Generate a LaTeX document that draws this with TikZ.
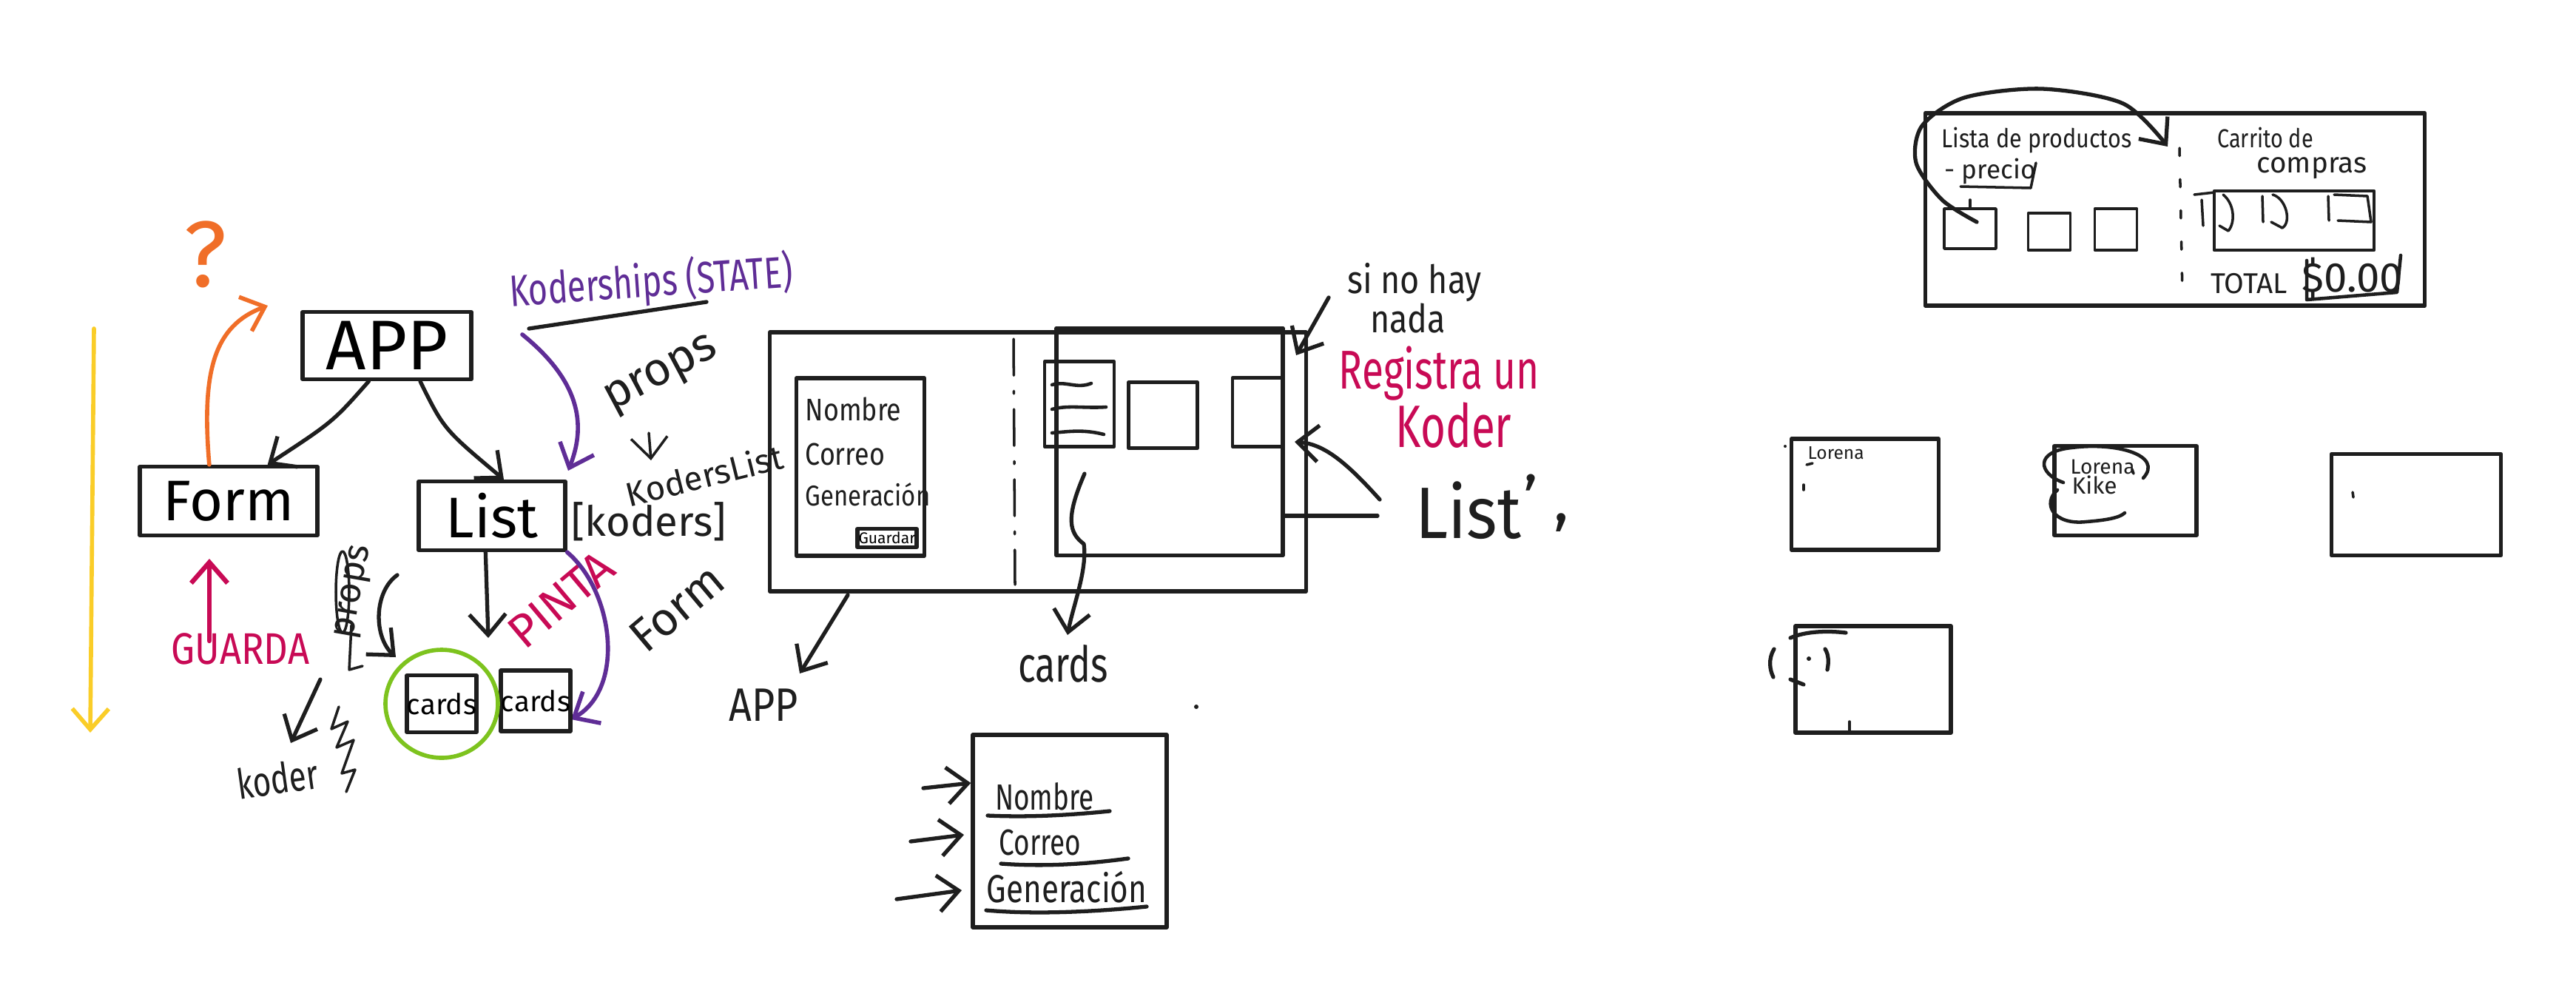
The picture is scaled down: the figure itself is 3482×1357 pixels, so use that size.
\documentclass[tikz,border=0pt]{standalone}
\usepackage{fontspec}
\setmainfont{Fira Sans}
\usetikzlibrary{arrows.meta}
\newcommand\hfs[1]{\fontsize{#1}{#1}\selectfont}
\definecolor{hyellow}{RGB}{250,205,40}
\definecolor{horange}{RGB}{240,110,40}
\definecolor{hpurple}{RGB}{95,45,150}
\definecolor{hcrimson}{RGB}{200,10,85}
\definecolor{hgreen}{RGB}{125,195,30}
\definecolor{hink}{RGB}{30,30,30}
\begin{document}
\begin{tikzpicture}[x=0.01cm,y=-0.01cm,
  ink/.style={draw=hink,line width=1.5pt,line cap=round,line join=round},
  thinink/.style={draw=hink,line width=1pt,line cap=round,line join=round},
  box/.style={ink,rectangle,inner sep=0pt},
  sbox/.style={thinink,rectangle,inner sep=0pt},
  barb/.style={-{Straight Barb[length=8pt,width=14pt]}},
  lbl/.style={inner sep=0pt,text=hink},
]
\useasboundingbox[fill=white] (0,0) rectangle (3482,1357);

% ---------- left diagram ----------
\draw[draw=hyellow,line width=1.6pt,line cap=round,barb] (127,444) -- (122,990);
\node[lbl,text=horange] (q) at (278,344) {\hfs{36}?};

\node[box,minimum width=2.28cm,minimum height=0.91cm] (app) at (523,467) {\hfs{27}APP};
\node[box,minimum width=2.40cm,minimum height=0.93cm] (form) at (309,677) {\hfs{22}Form};
\node[box,minimum width=1.98cm,minimum height=0.93cm] (list) at (665,697) {\hfs{22}List};
\node[lbl,anchor=west] (koders) at (772,705) {\hfs{16}[koders]};

\coordinate (orangeEnd) at (362,413);
\draw[draw=horange,line width=1.6pt,line cap=round,barb] (form.118) .. controls (272,500) and (290,440) .. (orangeEnd);
\draw[ink,barb] (app.243) .. controls (450,570) .. (form.43);
\draw[ink,barb] (app.313) .. controls (600,580) .. (list.72);

\node[lbl,text=hpurple,rotate=4,xscale=0.75] (state) at (880,382) {\hfs{17}Koderships (STATE)};
\coordinate (stateA) at (715,444);
\coordinate (stateB) at (955,408);
\draw[ink] (stateA) -- (stateB);
\coordinate (purpleStart) at (706,452);
\coordinate (purpleEnd) at (768,636);
\draw[draw=hpurple,line width=1.6pt,line cap=round,barb] (purpleStart) .. controls (790,520) and (790,580) .. (purpleEnd);

\node[lbl,rotate=28] (props1) at (895,508) {\hfs{18}props};
\coordinate (pa) at (877,585);
\coordinate (pb) at (880,622);
\draw[thinink,barb] (pa) -- (pb);
\node[lbl,rotate=14] (kl) at (952,642) {\hfs{13}KodersList};

\node[lbl,rotate=40] (formlbl) at (915,822) {\hfs{18}Form};
\node[lbl,text=hcrimson,rotate=40] (pinta) at (758,810) {\hfs{18}PINTA};

\node[lbl,rotate=80] (props2) at (480,800) {\hfs{14}props};
\draw[thinink] (463,800) ellipse (9 and 55);
\draw[thinink] (475,845) -- (472,905) -- (490,900);

\draw[ink,barb] (537,777) .. controls (505,800) and (505,860) .. (535,888);
\draw[ink,barb] (list.260) -- (660,862);
\draw[draw=hpurple,line width=1.6pt,line cap=round,barb] (list.south east) .. controls (830,800) and (845,930) .. (772,972);

\draw[draw=hcrimson,line width=1.8pt,line cap=round,barb] (283,866) -- (283,755);
\node[lbl,text=hcrimson,xscale=0.85] (guarda) at (325,877) {\hfs{17}GUARDA};
\coordinate (ka) at (433,918);
\coordinate (kb) at (393,1004);
\draw[ink,barb] (ka) -- (kb);
\node[lbl,rotate=8,xscale=0.75] (koderlbl) at (375,1052) {\hfs{16}koder};
\draw[thinink] (458,955) -- (448,985) -- (470,975) -- (455,1010) -- (478,1000) -- (462,1045) -- (480,1040) -- (468,1070);

\node[sbox,line width=1.5pt,minimum width=0.89cm,minimum height=0.77cm] (card1) at (597,951) {\hfs{11}cards};
\node[sbox,line width=1.5pt,minimum width=0.88cm,minimum height=0.82cm] (card2) at (724,947) {\hfs{11}cards};
\draw[draw=hgreen,line width=1.6pt] (card1.center) ellipse (76 and 73);

% ---------- middle wireframe ----------
\node[box,minimum width=7.24cm,minimum height=3.50cm] (wf) at (1403,624) {};
\draw[thinink,dash pattern=on 14pt off 6pt on 1pt off 6pt] (1370,458) -- (1372,790);
\node[box,minimum width=1.73cm,minimum height=2.40cm] (fcard) at (1163,631) {};
\node[lbl,anchor=west,xscale=0.85] (nom1) at (1088,553) {\hfs{12}Nombre};
\node[lbl,anchor=west,xscale=0.85] (cor1) at (1088,614) {\hfs{12}Correo};
\node[lbl,anchor=west,xscale=0.85] (gen1) at (1088,668) {\hfs{11}Generación};
\node[box,minimum width=0.80cm,minimum height=0.25cm] (btn) at (1199,727) {\hfs{6}Guardar};
\node[box,minimum width=3.06cm,minimum height=3.07cm] (lbox) at (1581,597) {};
\node[box,line width=1.3pt,minimum width=0.94cm,minimum height=1.15cm] (cardA) at (1459,546) {};
\draw[thinink,line width=1.3pt] (1422,520) .. controls (1440,514) and (1455,526) .. (1475,518);
\draw[thinink,line width=1.3pt] (1422,553) .. controls (1445,547) and (1465,552) .. (1495,550);
\draw[thinink,line width=1.3pt] (1422,585) .. controls (1445,583) and (1465,580) .. (1492,587);
\node[box,line width=1.3pt,minimum width=0.93cm,minimum height=0.89cm] (cardB) at (1572,561) {};
\node[box,line width=1.3pt,minimum width=0.68cm,minimum height=0.93cm] (cardC) at (1700,557) {};

\node[lbl,xscale=0.85] (sino) at (1912,382) {\hfs{15}si no hay};
\node[lbl,xscale=0.85] (nada) at (1903,430) {\hfs{15}nada};
\coordinate (sinoA) at (1796,402);
\coordinate (sinoB) at (1752,480);
\draw[ink,barb] (sinoA) -- (sinoB);
\node[lbl,text=hcrimson,xscale=0.72] (reg) at (1945,505) {\hfs{21}Registra un};
\node[lbl,text=hcrimson,xscale=0.72] (kod) at (1965,575) {\hfs{23}Koder};

\node[lbl,xscale=0.9] (listlbl) at (1985,690) {\hfs{28}List};
\node[lbl] (tick) at (2090,680) {\hfs{24}' ,};
\coordinate (la) at (1865,675);
\coordinate (lb) at (1862,697);
\draw[ink,barb] (la) .. controls (1820,625) and (1790,600) .. (1750,597);
\draw[ink] (lb) -- (lbox.east |- lb);

\coordinate (appA) at (1146,804);
\coordinate (appB) at (1081,910);
\draw[ink,barb] (appA) -- (appB);
\node[lbl,xscale=0.85] (applbl) at (1032,953) {\hfs{18}APP};
\coordinate (cA) at (1466,640);
\coordinate (cB) at (1443,858);
\draw[ink,barb] (cA) .. controls (1440,700) and (1445,720) .. (1465,735) .. controls (1470,770) and (1450,820) .. (cB);
\node[lbl,xscale=0.75] (cardslbl) at (1437,897) {\hfs{19}cards};
\fill[hink] (1617,955) circle (3);

\node[box,minimum width=2.62cm,minimum height=2.60cm] (bform) at (1446,1123) {};
\node[lbl,xscale=0.75] (nom2) at (1412,1076) {\hfs{14}Nombre};
\node[lbl,xscale=0.75] (cor2) at (1406,1139) {\hfs{14}Correo};
\node[lbl,xscale=0.8] (gen2) at (1442,1199) {\hfs{15}Generación};
\draw[ink] (1335,1102) .. controls (1400,1105) and (1460,1100) .. (1500,1096);
\draw[ink] (1353,1167) .. controls (1420,1172) and (1480,1166) .. (1525,1160);
\draw[ink] (1333,1230) .. controls (1400,1236) and (1480,1232) .. (1550,1225);
\coordinate (a1) at (1248,1065);
\coordinate (a2) at (1231,1137);
\coordinate (a3) at (1212,1215);
\draw[ink,barb] (a1) -- (bform.west |- 0,1058);
\draw[ink,barb] (a2) -- (1303,1128);
\draw[ink,barb] (a3) -- (1300,1203);

% ---------- right: shop wireframe ----------
\node[box,minimum width=6.75cm,minimum height=2.60cm] (shop) at (2940,283) {};
\node[lbl,xscale=0.87] (lp) at (2753,190) {\hfs{10}Lista de productos};
\node[lbl] (pr) at (2690,232) {\hfs{10}- precio};
\draw[thinink] (2650,252) -- (2745,254) -- (2752,220);
\draw[thinink,dash pattern=on 3pt off 9pt] (2946,200) -- (2950,398);
\node[sbox,minimum width=0.70cm,minimum height=0.54cm] (p1) at (2663,309) {};
\node[sbox,minimum width=0.57cm,minimum height=0.50cm] (p2) at (2770,313) {};
\node[sbox,minimum width=0.57cm,minimum height=0.56cm] (p3) at (2860,310) {};
\draw[thinink] (2663,270) -- (2663,280);
\draw[ink,barb] plot[smooth] coordinates {(2672,300) (2625,270) (2590,220) (2598,170) (2655,132) (2760,120) (2870,140) (2930,198)};
\node[lbl,xscale=0.82] (car) at (3062,186) {\hfs{10}Carrito de};
\node[lbl] (comp) at (3125,227) {\hfs{11}compras};
\node[box,line width=1.3pt,minimum width=2.16cm,minimum height=0.80cm] (cart) at (3101,298) {};
\draw[thinink] (2966,263) -- (2993,260);
\draw[thinink] (2976,270) -- (2978,305);
\draw[thinink] (3005,263) .. controls (3020,275) and (3022,300) .. (3012,312) -- (3000,305);
\draw[thinink] (3058,265) -- (3059,300);
\draw[thinink] (3072,263) .. controls (3090,268) and (3098,300) .. (3085,308) -- (3070,300);
\draw[thinink] (3147,265) -- (3148,298);
\draw[thinink] (3155,263) -- (3200,265) -- (3205,300) -- (3160,298);
\node[lbl] (total) at (3040,383) {\hfs{11}TOTAL};
\node[lbl] (price) at (3180,376) {\hfs{16}\$0.00};
\draw[thinink,line width=1.3pt] (3118,352) -- (3118,405) -- (3240,395) -- (3245,345);

% ---------- right: bottom boxes ----------
\node[box,minimum width=1.99cm,minimum height=1.50cm] (b1) at (2521,668) {};
\node[lbl,anchor=west] (lor1) at (2443,612) {\hfs{7}Lorena};
\draw[thinink] (2442,628) -- (2450,626);
\draw[thinink] (2438,655) -- (2438,662);
\fill[hink] (2413,603) circle (2);
\node[box,minimum width=1.92cm,minimum height=1.21cm] (b2) at (2873,663) {};
\node[lbl,anchor=west] (lor2) at (2798,631) {\hfs{8}Lorena};
\node[lbl,anchor=west] (kike) at (2800,655) {\hfs{9}Kike};
\draw[thinink,line width=1.3pt] (2789,652) .. controls (2755,640) and (2750,610) .. (2800,605) .. controls (2860,597) and (2925,615) .. (2897,646);
\draw[thinink,line width=1.3pt] (2781,662) .. controls (2760,680) and (2775,710) .. (2820,705) .. controls (2845,703) and (2865,700) .. (2872,693);
\draw[thinink] (2882,634) -- (2884,640);
\node[box,minimum width=2.29cm,minimum height=1.37cm] (b3) at (3266,682) {};
\draw[thinink] (3180,665) -- (3181,672);
\node[box,minimum width=2.10cm,minimum height=1.44cm] (b4) at (2532,918) {};
\draw[ink] (2420,862) .. controls (2440,853) and (2470,852) .. (2495,855);
\draw[ink] (2398,877) .. controls (2390,890) and (2392,905) .. (2397,915);
\fill[hink] (2445,890) circle (3);
\draw[ink] (2467,877) .. controls (2472,885) and (2472,895) .. (2470,905);
\draw[ink] (2420,918) -- (2438,925);
\draw[thinink] (2500,975) -- (2500,990);
\end{tikzpicture}
\end{document}
